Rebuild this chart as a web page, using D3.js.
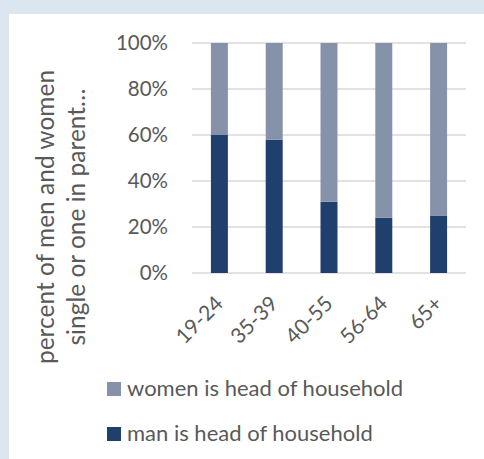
<!DOCTYPE html>
<html>
<head>
<meta charset="utf-8">
<script src="https://cdn.jsdelivr.net/npm/d3@7"></script>
<style>
  html, body { margin: 0; padding: 0; background: #dce6f1; }
  svg { display: block; }
  text { font-family: Lato, "Open Sans", sans-serif; fill: #595959; }
</style>
</head>
<body>
<svg width="484" height="459"></svg>
<script>
// age groups and share of households (percent)
const ageGroups = ["19-24", "35-39", "40-55", "56-64", "65+"];
const manHead = [60, 58, 31, 24, 25];
const womenHead = [40, 42, 69, 76, 75];
const yTicks = [0, 20, 40, 60, 80, 100];
const seriesNames = ["women is head of household", "man is head of household"];
const seriesColors = ["#8692aa", "#1f406d"];

const svg = d3.select("svg");

// white chart panel
svg.append("rect")
   .attr("x", 9).attr("y", 14)
   .attr("width", 475).attr("height", 445)
   .attr("fill", "#fff");

const margin = { left: 192, right: 18, top: 43, bottom: 186 };
const W = 484, H = 459;

const x = d3.scaleBand()
            .domain(ageGroups)
            .range([margin.left, W - margin.right])
            .paddingInner(0.69)
            .paddingOuter(0.345);

const y = d3.scaleLinear()
            .domain([0, 100])
            .range([H - margin.bottom, margin.top]);

// gridlines
svg.append("g")
   .selectAll("line")
   .data(yTicks)
   .enter()
   .append("line")
   .attr("x1", margin.left).attr("x2", W - margin.right)
   .attr("y1", d => y(d)).attr("y2", d => y(d))
   .attr("stroke", "#d9d9d9")
   .attr("stroke-width", 1.5);

// y axis labels
const yAxis = svg.append("g")
   .attr("transform", `translate(${margin.left},0)`)
   .call(d3.axisLeft(y).tickValues(yTicks).tickFormat(d => d + "%").tickSize(0).tickPadding(24));
yAxis.select(".domain").remove();
yAxis.selectAll("text")
     .style("font-size", "20.5px")
     .style("font-family", "Lato")
     .attr("fill", "#595959");

// stacked bars
const rows = ageGroups.map((g, i) => ({ group: g, man: manHead[i], women: womenHead[i] }));
const stack = d3.stack().keys(["man", "women"])(rows);
const keyColor = { man: seriesColors[1], women: seriesColors[0] };

svg.append("g")
   .selectAll("g")
   .data(stack)
   .enter()
   .append("g")
   .attr("fill", d => keyColor[d.key])
   .selectAll("rect")
   .data(d => d)
   .enter()
   .append("rect")
   .attr("x", d => x(d.data.group))
   .attr("width", x.bandwidth())
   .attr("y", d => y(d[1]))
   .attr("height", d => y(d[0]) - y(d[1]));

// x axis labels, rotated
const xAxis = svg.append("g")
   .attr("transform", `translate(0,${H - margin.bottom})`)
   .call(d3.axisBottom(x).tickSize(0).tickPadding(0));
xAxis.select(".domain").remove();
xAxis.selectAll("text")
     .style("font-size", "21px")
     .style("font-family", "Lato")
     .attr("fill", "#595959")
     .attr("text-anchor", "end")
     .attr("dy", 0)
     .attr("transform", "translate(5,32) rotate(-45)");

// y axis title (two lines)
const title = svg.append("text")
   .attr("transform", "translate(0,217) rotate(-90)")
   .attr("text-anchor", "middle")
   .style("font-size", "24.5px");
title.append("tspan").attr("x", 0).attr("y", 54).text("percent of men and women");
title.append("tspan").attr("x", 0).attr("y", 85).text("single or one in parent…");

// legend
const legend = svg.append("g")
   .selectAll("g")
   .data(seriesNames)
   .enter()
   .append("g")
   .attr("transform", (d, i) => `translate(107,${382 + i * 45})`);
legend.append("rect")
      .attr("width", 14).attr("height", 14)
      .attr("fill", (d, i) => seriesColors[i]);
legend.append("text")
      .attr("x", 20).attr("y", 14)
      .style("font-size", "22px")
      .text(d => d);
</script>
</body>
</html>
